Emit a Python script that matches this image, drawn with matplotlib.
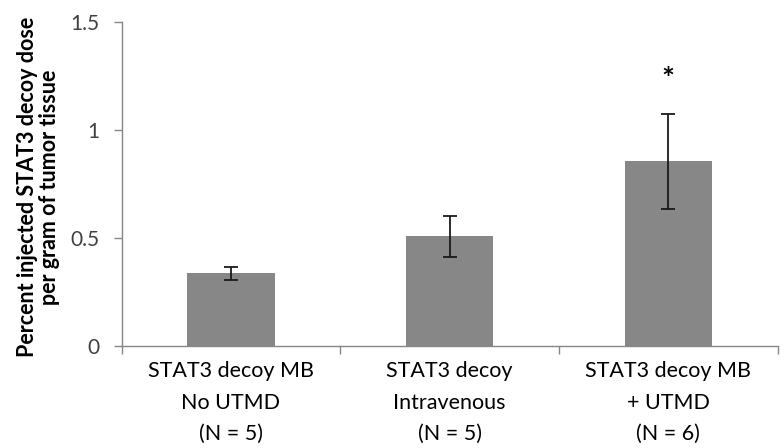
import numpy as np
import matplotlib.pyplot as plt

plt.rcParams['font.family'] = ['Lato', 'DejaVu Sans']

groups = ["STAT3 decoy MB\nNo UTMD\n(N = 5)",
          "STAT3 decoy\nIntravenous\n(N = 5)",
          "STAT3 decoy MB\n+ UTMD\n(N = 6)"]
means = [0.335, 0.506, 0.853]
errors = [0.03, 0.095, 0.22]
star_y = 1.165

fig = plt.figure(figsize=(7.84, 4.48), dpi=100)
ax = fig.add_axes([0.155, 0.228, 0.837, 0.724])

x = np.arange(len(groups))
ax.bar(x, means, width=0.4, color="#878787", zorder=2)
ax.errorbar(x, means, yerr=errors, fmt="none", ecolor="#1a1a1a",
            elinewidth=1.3, capsize=5, capthick=1.3, zorder=3)
ax.text(x[2], star_y, "*", ha="center", va="bottom", fontsize=22,
        fontweight="bold", color="black")

ax.set_xlim(-0.5, 2.5)
ax.set_ylim(0, 1.5)
ax.set_yticks([0, 0.5, 1, 1.5])
ax.set_yticklabels(["0", "0.5", "1", "1.5"])
ax.set_xticks(x)
ax.set_xticklabels(groups, fontsize=15.5, linespacing=1.72)
ax.set_xticks([-0.5, 0.5, 1.5, 2.5], minor=True)
ax.tick_params(axis="x", which="major", length=0, pad=11, colors="black")
ax.tick_params(axis="x", which="minor", length=6, width=1, color="#868686")
ax.tick_params(axis="y", length=6, width=1, color="#868686", pad=10,
               labelsize=15, labelcolor="#404040")

for s in ["top", "right"]:
    ax.spines[s].set_visible(False)
for s in ["left", "bottom"]:
    ax.spines[s].set_color("#868686")
    ax.spines[s].set_linewidth(1)

ax.set_ylabel("Percent injected STAT3 decoy dose\nper gram of tumor tissue",
              fontsize=15.5, fontweight="bold", linespacing=1.05)
ax.yaxis.set_label_coords(-0.094, 0.49)

fig.savefig("out.png", dpi=100)
